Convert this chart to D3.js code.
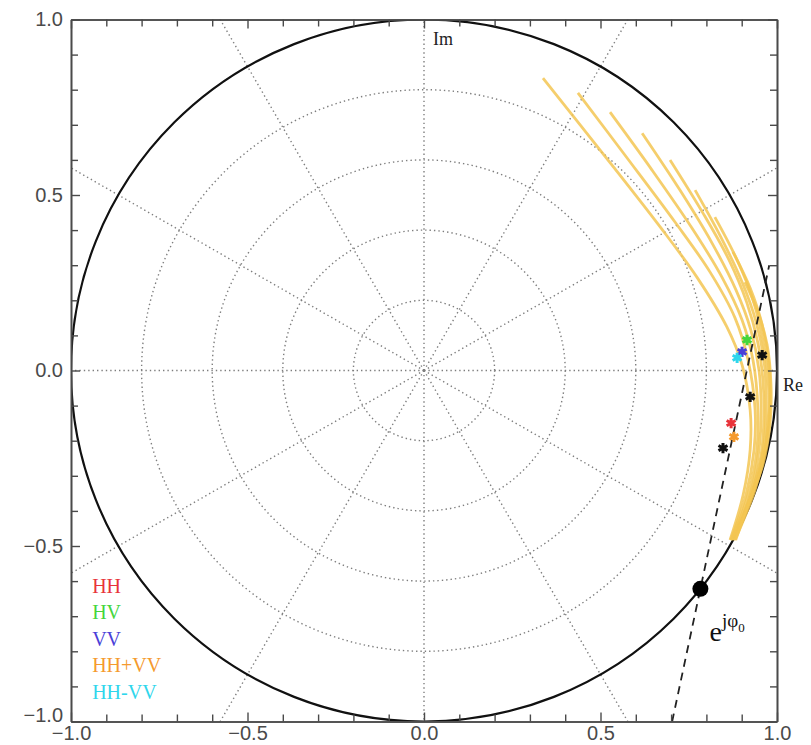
<!DOCTYPE html>
<html>
<head>
<meta charset="utf-8">
<script src="https://cdn.jsdelivr.net/npm/d3@7"></script>
<style>
  body { margin: 0; background: #fff; }
  svg { display: block; }
</style>
</head>
<body>
<svg></svg>
<script>
var screen = {width: 811, height: 745};
var box = {left: 71, right: 777, top: 19.5, bottom: 721.5};

// tick labels on both axes
var majorTicks = [-1.0, -0.5, 0.0, 0.5, 1.0];
var minorTicks = [-0.9, -0.8, -0.7, -0.6, -0.4, -0.3, -0.2, -0.1, 0.1, 0.2, 0.3, 0.4, 0.6, 0.7, 0.8, 0.9];

// polar grid
var gridRadii = [0.2, 0.4, 0.6, 0.8];
var gridAngles = [0, 30, 60, 90, 120, 150, 180, 210, 240, 270, 300, 330];

// yellow tracks, [Re, Im] points
var track1 = [[0.337,0.833],[0.499,0.628],[0.669,0.409],[0.773,0.266],[0.858,0.124],[0.901,0.016],[0.924,-0.113],[0.924,-0.226],[0.904,-0.355],[0.867,-0.483]];
var track2 = [[0.436,0.791],[0.569,0.614],[0.711,0.423],[0.810,0.281],[0.881,0.150],[0.918,0.030],[0.938,-0.113],[0.935,-0.226],[0.912,-0.355],[0.869,-0.483]];
var track3 = [[0.527,0.736],[0.646,0.571],[0.759,0.406],[0.844,0.266],[0.901,0.144],[0.932,0.030],[0.946,-0.113],[0.943,-0.226],[0.918,-0.355],[0.871,-0.483]];
var track4 = [[0.618,0.676],[0.725,0.514],[0.816,0.363],[0.884,0.229],[0.926,0.115],[0.949,0.001],[0.955,-0.113],[0.949,-0.226],[0.924,-0.355],[0.873,-0.483]];
var track5 = [[0.697,0.600],[0.790,0.449],[0.864,0.315],[0.915,0.192],[0.946,0.078],[0.960,-0.027],[0.963,-0.127],[0.955,-0.241],[0.926,-0.355],[0.875,-0.483]];
var track6 = [[0.768,0.514],[0.841,0.380],[0.901,0.252],[0.941,0.138],[0.963,0.030],[0.969,-0.084],[0.963,-0.212],[0.929,-0.355],[0.877,-0.483]];
var track7 = [[0.824,0.437],[0.887,0.315],[0.932,0.201],[0.960,0.087],[0.975,-0.027],[0.975,-0.141],[0.960,-0.255],[0.929,-0.355],[0.879,-0.483]];
var track8 = [[0.875,0.338],[0.924,0.235],[0.958,0.130],[0.977,0.016],[0.980,-0.098],[0.969,-0.212],[0.938,-0.340],[0.881,-0.483]];
var track9 = [[0.909,0.252],[0.946,0.167],[0.972,0.073],[0.983,-0.041],[0.980,-0.155],[0.960,-0.269],[0.918,-0.383],[0.883,-0.483]];

// coloured markers
var seriesNames = ["HH", "HV", "VV", "HH+VV", "HH-VV"];
var seriesColors = ["#e8333a", "#44d63c", "#4a3fd8", "#f59a2e", "#2fd6ec"];
var seriesRe = [0.870, 0.915, 0.901, 0.878, 0.887];
var seriesIm = [-0.150, 0.087, 0.053, -0.189, 0.036];

// black markers
var blackRe = [0.958, 0.924, 0.847];
var blackIm = [0.044, -0.075, -0.221];

// e^{j phi0} point and dashed line
var phi0Point = [0.783, -0.622];
var dashedLine = [[0.703, -1.0], [0.978, 0.30]];

var setup = function()
{
    var svg = d3.select("svg")
    .attr("width", screen.width)
    .attr("height", screen.height);

    var xScale = d3.scaleLinear().domain([-1, 1]).range([box.left, box.right]);
    var yScale = d3.scaleLinear().domain([-1, 1]).range([box.bottom, box.top]);

    svg.append("clipPath").attr("id", "plotClip")
    .append("rect")
    .attr("x", box.left).attr("y", box.top)
    .attr("width", box.right - box.left).attr("height", box.bottom - box.top);

    drawGrid(svg, xScale, yScale);
    drawTracks(svg, xScale, yScale);
    drawMarkers(svg, xScale, yScale);
    drawAxes(svg, xScale, yScale);
    drawLabels(svg, xScale, yScale);
}

var drawGrid = function(svg, xScale, yScale)
{
    var grid = svg.append("g").attr("clip-path", "url(#plotClip)");
    var dotted = {stroke: "#7e7e7e", width: 1.4, dash: "1.4,3"};

    grid.selectAll(".ring")
    .data(gridRadii)
    .enter()
    .append("ellipse")
    .attr("cx", xScale(0)).attr("cy", yScale(0))
    .attr("rx", function(d){ return xScale(d) - xScale(0); })
    .attr("ry", function(d){ return yScale(0) - yScale(d); })
    .attr("fill", "none")
    .attr("stroke", dotted.stroke)
    .attr("stroke-width", dotted.width)
    .attr("stroke-dasharray", dotted.dash);

    grid.selectAll(".spoke")
    .data(gridAngles)
    .enter()
    .append("line")
    .attr("x1", xScale(0)).attr("y1", yScale(0))
    .attr("x2", function(d){ return xScale(1.5 * Math.cos(d * Math.PI / 180)); })
    .attr("y2", function(d){ return yScale(1.5 * Math.sin(d * Math.PI / 180)); })
    .attr("stroke", dotted.stroke)
    .attr("stroke-width", dotted.width)
    .attr("stroke-dasharray", dotted.dash);

    // unit circle
    grid.append("ellipse")
    .attr("cx", xScale(0)).attr("cy", yScale(0))
    .attr("rx", xScale(1) - xScale(0))
    .attr("ry", yScale(0) - yScale(1))
    .attr("fill", "none")
    .attr("stroke", "#111")
    .attr("stroke-width", 2.2);
}

var drawTracks = function(svg, xScale, yScale)
{
    var line = d3.line()
    .x(function(d){ return xScale(d[0]); })
    .y(function(d){ return yScale(d[1]); })
    .curve(d3.curveCatmullRom);

    var tracks = [track1, track2, track3, track4, track5, track6, track7, track8, track9];
    svg.append("g")
    .selectAll("path")
    .data(tracks)
    .enter()
    .append("path")
    .attr("d", line)
    .attr("fill", "none")
    .attr("stroke", "#f3c552")
    .attr("stroke-width", 2.8)
    .attr("stroke-opacity", 0.85);

    // dashed line through e^{j phi0}
    svg.append("path")
    .attr("clip-path", "url(#plotClip)")
    .attr("d", d3.line().x(function(d){ return xScale(d[0]); }).y(function(d){ return yScale(d[1]); })(dashedLine))
    .attr("fill", "none")
    .attr("stroke", "#222")
    .attr("stroke-width", 1.8)
    .attr("stroke-dasharray", "8,6");
}

var drawMarkers = function(svg, xScale, yScale)
{
    var star = d3.symbol().type(d3.symbolAsterisk).size(75);

    svg.append("g")
    .selectAll("path")
    .data(blackRe)
    .enter()
    .append("path")
    .attr("d", star)
    .attr("transform", function(d, i){ return "translate(" + xScale(d) + "," + yScale(blackIm[i]) + ")"; })
    .attr("fill", "none")
    .attr("stroke", "#111")
    .attr("stroke-width", 3);

    svg.append("g")
    .selectAll("path")
    .data(seriesRe)
    .enter()
    .append("path")
    .attr("d", star)
    .attr("transform", function(d, i){ return "translate(" + xScale(d) + "," + yScale(seriesIm[i]) + ")"; })
    .attr("fill", "none")
    .attr("stroke", function(d, i){ return seriesColors[i]; })
    .attr("stroke-width", 3);

    svg.append("circle")
    .attr("cx", xScale(phi0Point[0]))
    .attr("cy", yScale(phi0Point[1]))
    .attr("r", 8)
    .attr("fill", "#000");
}

var drawAxes = function(svg, xScale, yScale)
{
    var fmt = d3.format(".1f");
    var axisColor = "#4a4a4a";

    var axes = [
        {gen: d3.axisBottom(xScale), at: "translate(0," + box.bottom + ")", labels: true, pad: 4},
        {gen: d3.axisTop(xScale), at: "translate(0," + box.top + ")", labels: false, pad: 3},
        {gen: d3.axisLeft(yScale), at: "translate(" + box.left + ",0)", labels: true, pad: 8},
        {gen: d3.axisRight(yScale), at: "translate(" + box.right + ",0)", labels: false, pad: 3}
    ];

    axes.forEach(function(a)
    {
        var g = svg.append("g").attr("transform", a.at);
        g.call(a.gen.tickValues(minorTicks).tickSizeInner(-7).tickSizeOuter(0).tickFormat(""));
        var g2 = svg.append("g").attr("transform", a.at);
        g2.call(a.gen.tickValues(majorTicks).tickSizeInner(-9).tickSizeOuter(0)
            .tickPadding(a.pad)
            .tickFormat(a.labels ? fmt : ""));
        [g, g2].forEach(function(s)
        {
            s.select(".domain").attr("stroke", axisColor).attr("stroke-width", 1.6);
            s.selectAll(".tick line").attr("stroke", axisColor).attr("stroke-width", 1.4);
            s.selectAll(".tick text")
            .attr("fill", "#4a4a4a")
            .style("font-family", "'Liberation Sans', Arial, sans-serif")
            .style("font-size", "20px");
        });
    });

    // lowest left label sits a little above its tick, clear of the x labels
    svg.selectAll("g")
    .filter(function(){ return this.getAttribute("transform") === "translate(" + box.left + ",0)"; })
    .selectAll(".tick text")
    .filter(function(d){ return d === -1.0; })
    .attr("dy", "0.0em");
}

var drawLabels = function(svg, xScale, yScale)
{
    var serif = "'Liberation Serif', 'Times New Roman', serif";

    svg.append("text")
    .attr("x", xScale(0) + 9).attr("y", yScale(0.927))
    .style("font-family", serif).style("font-size", "18px")
    .attr("fill", "#222")
    .text("Im");

    svg.append("text")
    .attr("x", xScale(1) + 6).attr("y", yScale(-0.058))
    .style("font-family", serif).style("font-size", "18px")
    .attr("fill", "#222")
    .text("Re");

    // e^{j phi0}
    var e = svg.append("text")
    .attr("x", xScale(0.809)).attr("y", yScale(-0.770))
    .style("font-family", serif)
    .attr("fill", "#111");
    e.append("tspan").style("font-size", "28px").text("e");
    e.append("tspan").style("font-size", "19px").attr("dy", -14).text("j\u03c6");
    e.append("tspan").style("font-size", "13px").attr("dy", 5).text("0");

    svg.append("g")
    .selectAll("text")
    .data(seriesNames)
    .enter()
    .append("text")
    .attr("x", xScale(-0.94))
    .attr("y", function(d, i){ return yScale(-0.633 - i * 0.0755); })
    .attr("fill", function(d, i){ return seriesColors[i]; })
    .style("font-family", serif)
    .style("font-size", "20px")
    .text(function(d){ return d; });
}

setup();
</script>
</body>
</html>
